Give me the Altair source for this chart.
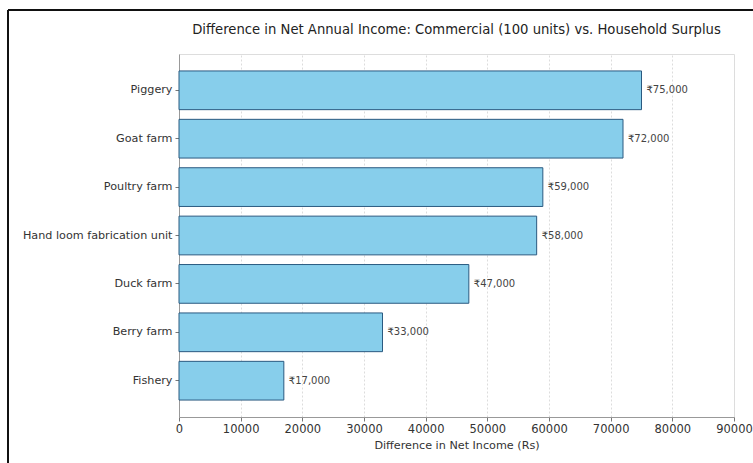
import altair as alt
import pandas as pd

categories = ["Piggery", "Goat farm", "Poultry farm", "Hand loom fabrication unit",
              "Duck farm", "Berry farm", "Fishery"]
values = [75000, 72000, 59000, 58000, 47000, 33000, 17000]
x_ticks = [0, 10000, 20000, 30000, 40000, 50000, 60000, 70000, 80000, 90000]
title_text = "Difference in Net Annual Income: Commercial (100 units) vs. Household Surplus"

df = pd.DataFrame({"category": categories, "value": values})
df["label"] = ["\u20b9{:,}".format(v) for v in values]

FONT = "DejaVu Sans"
W, H = 555, 363
L, T = 179, 54

y_enc = alt.Y("category:N", sort=categories,
              scale=alt.Scale(paddingInner=0.2, paddingOuter=0.35),
              axis=alt.Axis(title=None, labelFontSize=11.2, labelColor="#333",
                            labelFont=FONT, tickSize=4, tickColor="#777",
                            labelPadding=3, domainColor="#999", grid=False))
x_enc = alt.X("value:Q", scale=alt.Scale(domain=[0, 90000], nice=False),
              axis=alt.Axis(values=x_ticks, title="Difference in Net Income (Rs)",
                            titleFontSize=11.2, titleFont=FONT, titleFontWeight="normal",
                            titleColor="#333", titlePadding=5,
                            labelFontSize=11.5, labelFont=FONT, labelColor="#333",
                            tickSize=4, tickColor="#777", domainColor="#999",
                            grid=True, gridColor="#dcdcdc", gridDash=[2, 2],
                            format="d", labelFlush=False))

bars = alt.Chart(df).mark_bar(color="#87CEEB", stroke="#2a5a80", strokeWidth=1).encode(
    x=x_enc, y=y_enc)

labels = alt.Chart(df).mark_text(align="left", baseline="middle", dx=5,
                                 fontSize=10, font=FONT, color="#444").encode(
    x="value:Q", y=alt.Y("category:N", sort=categories), text="label:N")

title = alt.Chart(pd.DataFrame({"t": [title_text]})).mark_text(
    align="center", baseline="alphabetic", fontSize=13.2, font=FONT, color="#222").encode(
    x=alt.value(W / 2), y=alt.value(34 - T), text="t:N")

frame_left = alt.Chart(df).mark_rule(color="#111", strokeWidth=2).encode(
    x=alt.value(8 - L), y=alt.value(10 - T), y2=alt.value(463 - T + 5))
frame_top = alt.Chart(df).mark_rule(color="#111", strokeWidth=2).encode(
    x=alt.value(8 - L), x2=alt.value(753 - L + 5), y=alt.value(10 - T))

chart = alt.layer(bars, labels, title, frame_left, frame_top).properties(
    width=W, height=H,
    autosize=alt.AutoSizeParams(type="none"),
    padding={"left": L, "top": T, "right": 753 - L - W, "bottom": 463 - T - H},
).configure_view(stroke="#999", strokeWidth=1).configure(background="white")

chart.save("out.html", embed_options={"renderer": "svg", "actions": False})
